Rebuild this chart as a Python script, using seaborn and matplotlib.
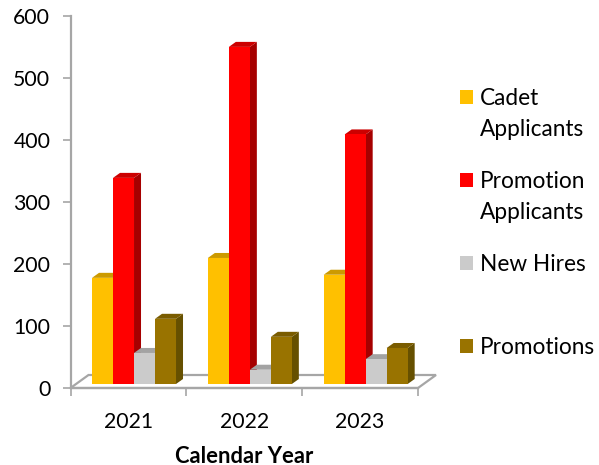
""" Staffing counts by calendar year, drawn as bars with a fake 3D look.
"""
import pandas as pd
import matplotlib.pyplot as plt
from matplotlib.patches import Patch, Polygon
from matplotlib.transforms import ScaledTranslation
import seaborn as sns

# Data
years = ['2021', '2022', '2023']
cadet_applicants = [171, 203, 176]
promotion_applicants = [332, 543, 402]
new_hires = [50, 23, 40]
promotions = [105, 76, 58]

series_names = ['Cadet Applicants', 'Promotion Applicants', 'New Hires', 'Promotions']
legend_labels = ['Cadet\nApplicants', 'Promotion\nApplicants', 'New Hires\n ', 'Promotions\n ']
front_colors = ['#FFC000', '#FF0000', '#CBCBCB', '#997300']
side_colors = ['#BF9000', '#A60000', '#989898', '#665000']
top_colors = ['#CC9A00', '#CC0000', '#A3A3A3', '#7A5C00']

df = pd.DataFrame({
    'year': years * 4,
    'series': [name for name in series_names for _ in years],
    'count': cadet_applicants + promotion_applicants + new_hires + promotions,
})

sns.set_style('white')
plt.rcParams['font.family'] = ['Lato', 'DejaVu Sans']

fig = plt.figure(figsize=(5.99, 4.65), dpi=100)
ax = fig.add_axes([70.5 / 599, 77 / 465, 347.5 / 599, 372.5 / 465])

sns.barplot(data=df, x='year', y='count', hue='series', hue_order=series_names,
            palette=front_colors, saturation=1, width=0.725, gap=0, dodge=True,
            legend=False, ax=ax)

ax.set_xlim(-0.5, 2.5)
ax.set_ylim(0, 600)

# Bars sit a little into the floor, so move them off the axis corner
shift = ax.transData + ScaledTranslation(5.6 / 100, 4 / 100, fig.dpi_scale_trans)
depth_x = 7 / (347.5 / 3)
depth_y = 5 / (372.5 / 600)

for i, container in enumerate(ax.containers):
    for bar in container:
        x0, w, h = bar.get_x(), bar.get_width(), bar.get_height()
        x1 = x0 + w
        bar.set_transform(shift)
        bar.set_linewidth(0)
        bar.set_zorder(3 + i)
        ax.add_patch(Polygon([(x1, 0), (x1 + depth_x, depth_y), (x1 + depth_x, h + depth_y), (x1, h)],
                             closed=True, facecolor=side_colors[i], linewidth=0,
                             transform=shift, zorder=3 + i - 0.1, clip_on=False))
        ax.add_patch(Polygon([(x0, h), (x0 + depth_x, h + depth_y), (x1 + depth_x, h + depth_y), (x1, h)],
                             closed=True, facecolor=top_colors[i], linewidth=0,
                             transform=shift, zorder=3 + i - 0.1, clip_on=False))

# Floor of the chart
floor_x = 18 / 347.5
floor_y = 13 / 372.5
ax.add_patch(Polygon([(0, 0), (floor_x, floor_y), (1 + floor_x, floor_y), (1, 0)],
                     closed=True, facecolor='white', edgecolor='#A6A6A6', linewidth=1.6,
                     transform=ax.transAxes, zorder=1, clip_on=False))

for side in ['top', 'right']:
    ax.spines[side].set_visible(False)
for side in ['left', 'bottom']:
    ax.spines[side].set_color('#A6A6A6')
    ax.spines[side].set_linewidth(1.6)

ax.set_yticks(range(0, 601, 100))
ax.set_xticks([-0.5, 0.5, 1.5, 2.5], minor=False, labels=[])
ax.set_xticks([0, 1, 2], labels=years, minor=True)
ax.tick_params(axis='y', which='major', left=True, length=5.5, width=1.2, color='#A6A6A6',
               labelsize=15.3, labelcolor='black', pad=9)
ax.tick_params(axis='x', which='major', bottom=True, length=5.5, width=1.2, color='#A6A6A6')
ax.tick_params(axis='x', which='minor', bottom=False, labelsize=15.3, labelcolor='black', pad=15)

ax.set_ylabel('')
ax.set_xlabel('Calendar Year', fontsize=15.8, fontweight='bold', color='black', labelpad=10)

handles = [Patch(facecolor=c, edgecolor='none') for c in front_colors]
legend = ax.legend(handles, legend_labels, loc='upper left', bbox_to_anchor=(460 / 599, 1 - 88 / 465),
                   bbox_transform=fig.transFigure, frameon=False, fontsize=16.3,
                   handlelength=0.575, handleheight=0.575, handletextpad=0.31, labelspacing=1.37,
                   borderpad=0, borderaxespad=0, labelcolor='black')
for text in legend.get_texts():
    text.set_linespacing(1.58)
for handle in legend.legend_handles:
    handle.set_y(handle.get_y() + 12.5)

fig.savefig('out.png', dpi=100)
